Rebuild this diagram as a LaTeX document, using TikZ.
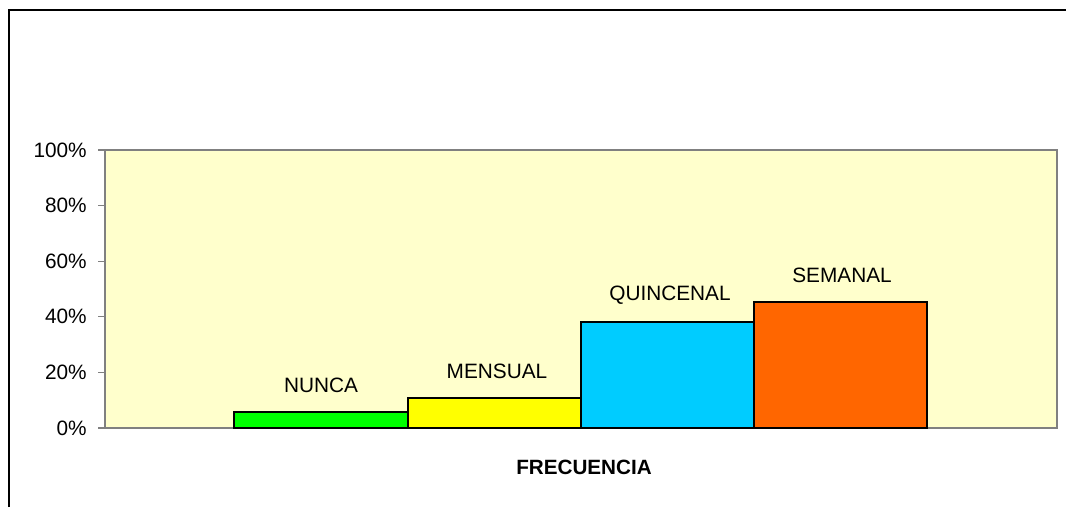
\documentclass[tikz,border=0pt]{standalone}
\usepackage{fontspec}
\setmainfont{Liberation Sans}
\definecolor{plotbg}{HTML}{FFFFCC}
\definecolor{plotframe}{HTML}{808080}
\definecolor{nuncac}{HTML}{00FF00}
\definecolor{mensualc}{HTML}{FFFF00}
\definecolor{quincenalc}{HTML}{00CCFF}
\definecolor{semanalc}{HTML}{FF6600}
\tikzset{
  bar/.style={draw=black,line width=1.5pt},
  barlabel/.style={font=\fontsize{15.6}{18}\selectfont,inner sep=0pt},
  ticklabel/.style={font=\fontsize{15.6}{18}\selectfont,anchor=east,inner sep=0pt}
}
\begin{document}
\begin{tikzpicture}[x=0.75pt,y=0.75pt]
    \useasboundingbox (0,0) rectangle (1066,507);
    \fill[white] (0,0) rectangle (1066,507);

    % outer frame, only top and left visible
    \draw[line width=1.8pt] (9,0) -- (9,497) -- (1066,497);

    % plot area
    \draw[plotframe,fill=plotbg,line width=1.2pt] (105,79) rectangle (1057,357);
    \foreach \p [count=\i from 0] in {0\%,20\%,40\%,60\%,80\%,100\%} {
      \draw[plotframe,line width=1pt] (98,79+55.6*\i) -- (105,79+55.6*\i);
      \node[ticklabel] (t\i) at (87,79+55.6*\i) {\p};
    }

    % bars
    \draw[bar,fill=nuncac] (234,79) rectangle (408,95);
    \draw[bar,fill=mensualc] (408,79) rectangle (581,109);
    \draw[bar,fill=quincenalc] (581,79) rectangle (754,185);
    \draw[bar,fill=semanalc] (754,79) rectangle (927,205);

    \node[barlabel] (nunca) at (321,122) {NUNCA};
    \node[barlabel] (mensual) at (497,136) {MENSUAL};
    \node[barlabel] (quincenal) at (670,212) {QUINCENAL};
    \node[barlabel] (semanal) at (842,232) {SEMANAL};

    \node[font=\bfseries\fontsize{15.5}{18}\selectfont,inner sep=0pt] (eje) at (584,40) {FRECUENCIA};
  \end{tikzpicture}
\end{document}
